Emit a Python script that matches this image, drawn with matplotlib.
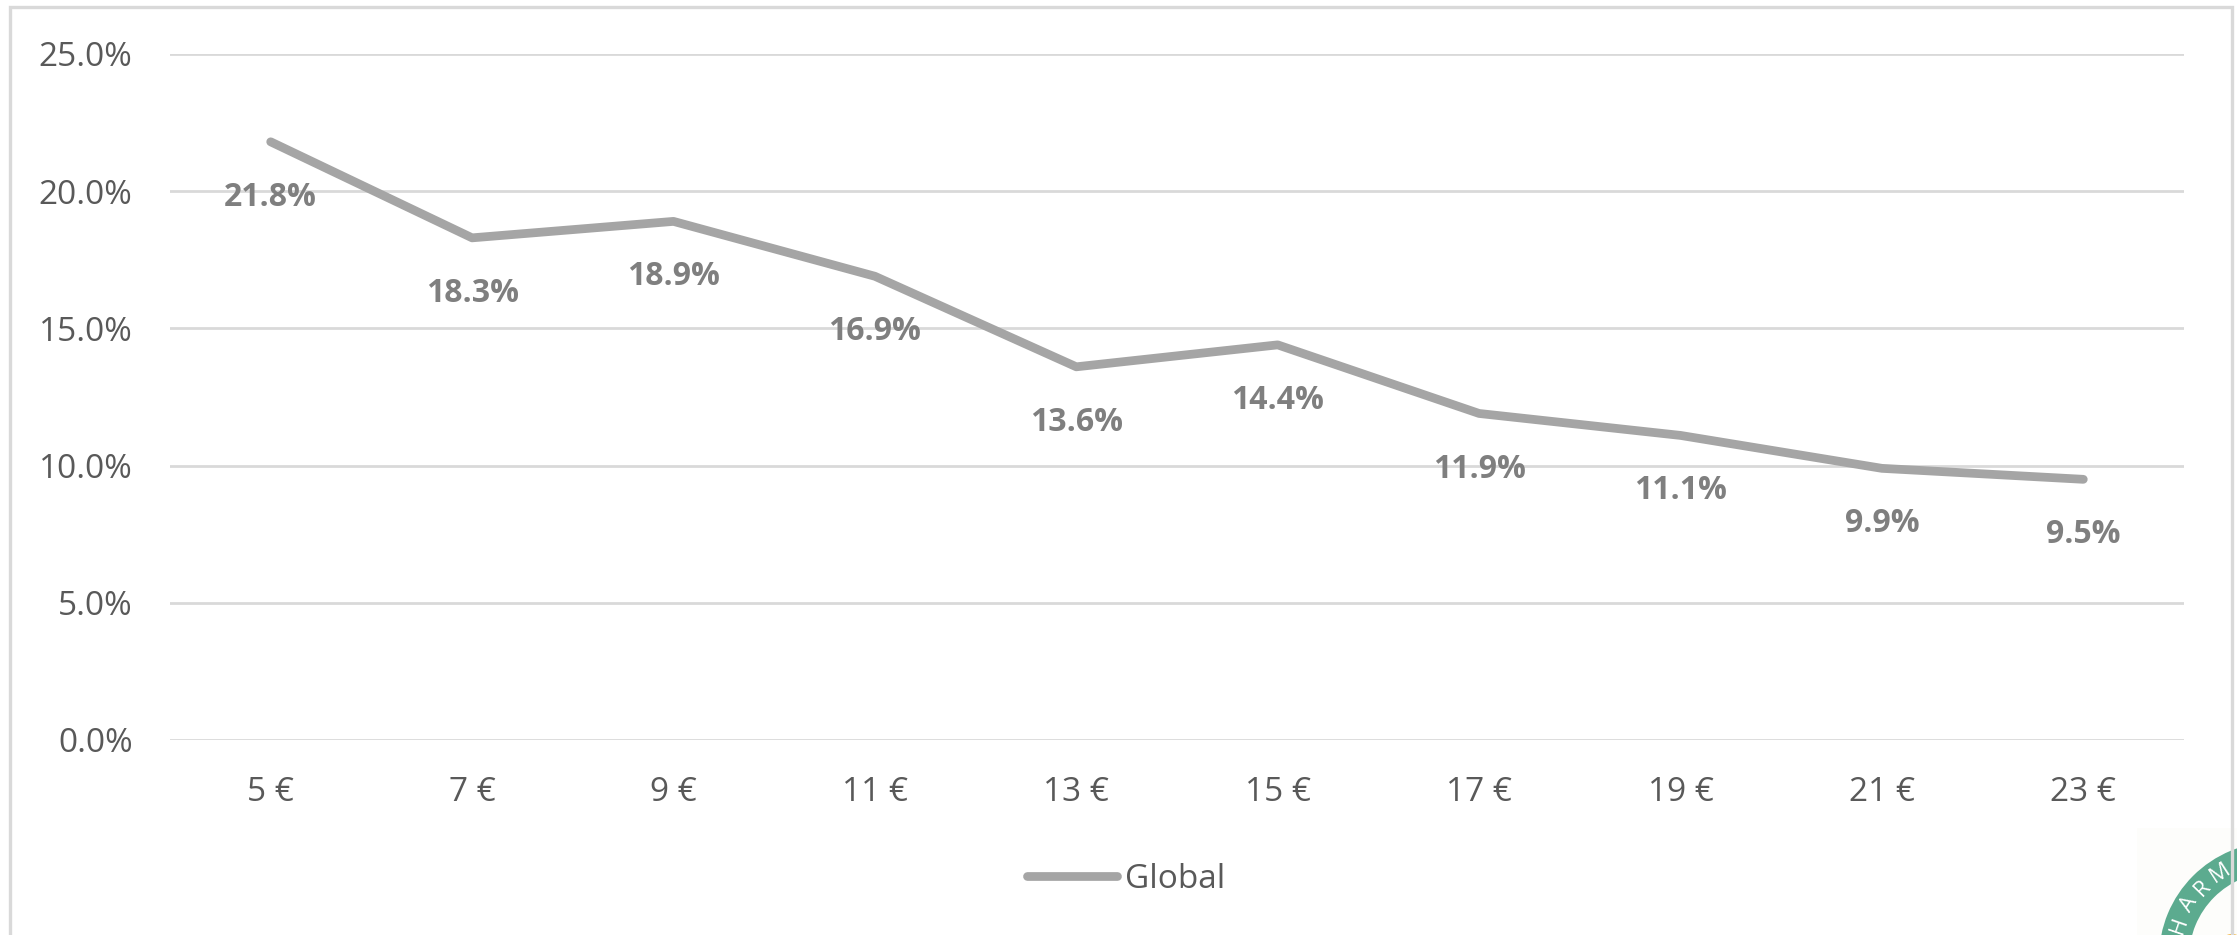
import numpy as np
import matplotlib
matplotlib.use("Agg")
import matplotlib.pyplot as plt
from matplotlib.patches import Rectangle, Wedge, Circle

plt.rcParams['font.family'] = ['Open Sans', 'DejaVu Sans']

# data
prices = ["5 €", "7 €", "9 €", "11 €", "13 €", "15 €", "17 €", "19 €", "21 €", "23 €"]
share = [21.8, 18.3, 18.9, 16.9, 13.6, 14.4, 11.9, 11.1, 9.9, 9.5]
y_ticks = [0, 5, 10, 15, 20, 25]
series_name = "Global"

W, H = 2237, 935
fig = plt.figure(figsize=(W / 100, H / 100), dpi=100)
fig.patch.set_facecolor("white")

# chart border (bottom edge lies outside the picture)
fig.patches.append(Rectangle((10 / W, -0.05), 2222 / W, 1.05 - 7 / H,
                             transform=fig.transFigure, fill=False,
                             edgecolor="#d9d9d9", lw=2.4, zorder=0))

ax = fig.add_axes([170 / W, 1 - 740 / H, 2014 / W, 686 / H])
x = np.arange(len(prices))
ax.plot(x, share, color="#a5a5a5", lw=6.3, solid_capstyle="round",
        solid_joinstyle="round", label=series_name, zorder=3)

for xi, v in zip(x, share):
    ax.annotate(f"{v:.1f}%", (xi, v), xytext=(0, -40), textcoords="offset points",
                ha="center", va="center", fontsize=23, fontweight="bold",
                color="#7f7f7f", zorder=4)

ax.set_xlim(-0.5, len(prices) - 0.5)
ax.set_ylim(0, 25)
ax.set_yticks(y_ticks)
ax.set_yticklabels([f"{t:.1f}%" for t in y_ticks])
ax.set_xticks(x)
ax.set_xticklabels(prices)
ax.tick_params(axis="y", length=0, pad=27, labelsize=24, labelcolor="#595959")
ax.tick_params(axis="x", length=0, pad=26, labelsize=24, labelcolor="#595959")
ax.grid(axis="y", color="#d9d9d9", lw=2)
ax.set_axisbelow(True)
for s in ax.spines.values():
    s.set_visible(False)

leg = fig.legend(loc="center", bbox_to_anchor=(1126 / W, 1 - 879 / H),
                 frameon=False, fontsize=24, handlelength=2.7, handletextpad=0.25)
for t in leg.get_texts():
    t.set_color("#595959")

# partial logo in the bottom-right corner
lax = fig.add_axes([0, 0, 1, 1], facecolor="none")
lax.set_xlim(0, W)
lax.set_ylim(H, 0)
lax.axis("off")
lax.add_patch(Rectangle((2137, 828), 110, 120, facecolor="#fdfdfb", edgecolor="none"))
cx, cy = 2275, 958
lax.add_patch(Wedge((cx, cy), 116, 0, 360, width=30, facecolor="#5cab8f", edgecolor="none"))
lax.add_patch(Circle((2232, 948), 14, facecolor="#f2b33d", edgecolor="none"))
for letter, ang in zip("HARM", [161, 148, 136, 123]):
    r = 101
    px = cx + r * np.cos(np.radians(ang))
    py = cy - r * np.sin(np.radians(ang))
    lax.text(px, py, letter, color="white", fontsize=16, ha="center", va="center",
             rotation=ang - 90)

fig.savefig("out.png", dpi=100)
